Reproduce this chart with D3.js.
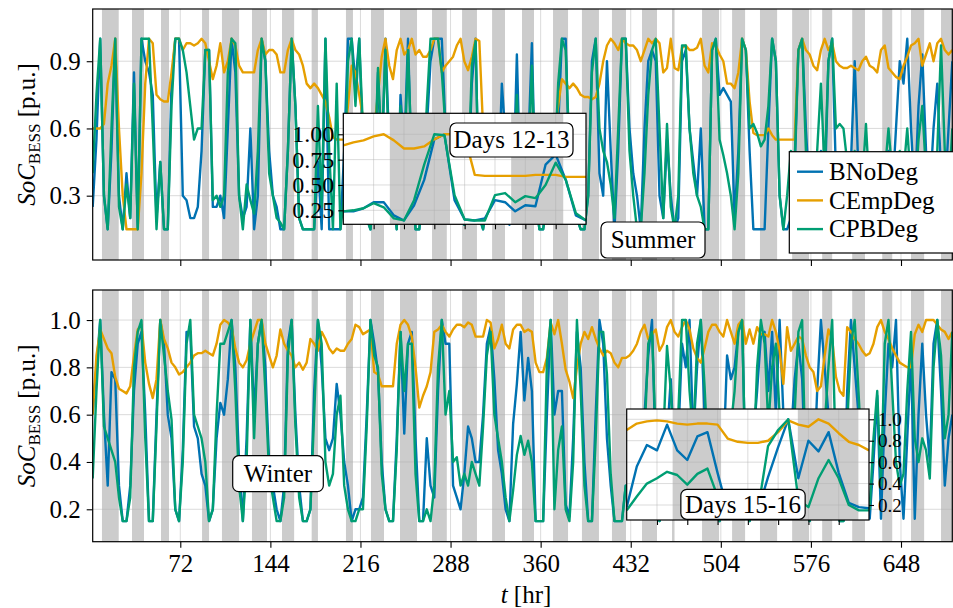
<!DOCTYPE html>
<html>
<head>
<meta charset="utf-8">
<script src="https://cdn.jsdelivr.net/npm/d3@7"></script>
<style>
  body { margin: 0; background: #fff; }
  svg { display: block; font-family: "Liberation Serif", "DejaVu Serif", serif; }
</style>
</head>
<body>
<svg id="svg" width="953" height="608"></svg>
<script>
// sampling of the main panels: every 3 hours, from hour 2 to 689
var hours = d3.range(2, 690, 3);
var xTicks = [72, 144, 216, 288, 360, 432, 504, 576, 648];
var seriesNames = ["BNoDeg", "CEmpDeg", "CPBDeg"];
var seriesColors = ["#0072B2", "#E69F00", "#009E73"];

// shaded hours (same for both seasons)
var bandStart = [9.4, 33.4, 56.6, 89.4, 105.3, 129.3, 153.3, 177, 204.4, 224.4, 247.6, 273.2, 297.2, 321.2, 345.1,
  369.9, 393, 417, 441, 465, 489, 513, 535.3, 561, 585, 609, 633, 656, 680];
var bandEnd = [22.8, 43, 63, 95, 119, 141.3, 163, 182, 210, 234.8, 261.2, 285, 309.1, 331.5, 354.7,
  381.9, 406.6, 428.2, 453, 467, 502.6, 523.4, 549, 574.5, 593, 619.2, 641, 666.5, 690];

// Summer
var summerBNoDeg = [
  0.25, 0.55, 1.0, 0.3, 0.15, 0.5, 1.0, 0.3,
  0.15, 0.40, 0.2, 0.85, 0.15, 1.0, 0.9, 0.85,
  0.75, 0.2, 0.45, 0.15, 0.15, 0.8, 1.0, 1.0,
  0.3, 0.28, 0.2, 0.2, 0.25, 0.5, 0.95, 0.95,
  0.25, 0.25, 0.3, 0.2, 0.6, 1.0, 0.85, 0.3,
  0.2, 0.25, 0.6, 0.15, 0.3, 1.0, 0.9, 0.5,
  0.3, 0.25, 0.15, 0.15, 0.5, 1.0, 0.7, 0.2,
  0.15, 0.15, 0.15, 0.15, 0.45, 0.15, 1.0, 0.15,
  0.15, 0.15, 0.15, 0.5, 1.0, 1.0, 0.8, 1.0,
  0.5, 0.2, 0.15, 0.3, 0.85, 0.4, 1.0, 0.5,
  0.3, 0.15, 0.75, 0.5, 1.0, 0.4, 0.15, 0.15,
  0.3, 0.6, 0.9, 1.0, 1.0, 1.0, 0.6, 0.3,
  0.24, 0.29, 0.35, 0.17, 0.35, 0.8, 1.0, 0.2,
  0.15, 0.25, 0.33, 0.27, 0.3, 0.8, 0.55, 0.17,
  0.3, 0.93, 0.3, 0.2, 0.5, 0.98, 0.3, 0.15,
  0.15, 0.3, 0.2, 0.3, 0.6, 1.0, 1.0, 0.4,
  0.3, 0.2, 0.15, 0.15, 0.3, 0.9, 1.0, 0.4,
  0.3, 0.9, 0.5, 0.15, 0.5, 1.0, 1.0, 0.6,
  0.4, 0.3, 0.15, 0.6, 0.9, 0.95, 0.9, 0.3,
  0.2, 0.55, 0.3, 0.15, 0.2, 0.9, 0.95, 0.6,
  0.45, 0.3, 0.6, 0.15, 0.15, 0.95, 1.0, 0.75,
  0.78, 0.75, 0.72, 0.2, 0.5, 1.0, 0.95, 0.5,
  0.15, 0.15, 0.15, 0.15, 0.6, 1.0, 0.9, 0.3,
  0.15, 0.15, 0.2, 0.4, 0.95, 1.0, 0.6, 0.3,
  0.2, 0.3, 0.5, 0.3, 0.9, 1.0, 0.4, 0.3,
  0.3, 0.2, 0.45, 0.9, 0.4, 0.3, 0.15, 0.15,
  0.15, 0.15, 0.15, 0.3, 0.5, 0.3, 0.6, 0.9,
  0.8, 1.0, 0.6, 0.3, 0.7, 0.93, 0.5, 0.3,
  0.6, 0.8, 0.4, 0.3, 0.6, 0.9
];
var summerCEmpDeg = [
  0.60, 0.60, 0.60, 0.62, 0.80, 0.88, 1.0, 0.6,
  0.30, 0.15, 0.15, 0.15, 0.15, 0.4, 0.8, 1.0,
  0.98, 0.75, 0.73, 0.72, 0.72, 0.85, 1.0, 1.0,
  0.95, 0.98, 0.98, 0.97, 0.98, 1.0, 0.98, 0.9,
  0.82, 0.88, 0.98, 0.85, 0.90, 1.0, 0.97, 0.88,
  0.85, 0.85, 0.85, 0.85, 0.95, 1.0, 0.93, 0.95,
  0.95, 0.93, 0.85, 0.85, 0.95, 1.0, 0.95, 0.93,
  0.88, 0.80, 0.78, 0.80, 0.78, 0.75, 0.72, 0.65,
  0.56, 0.55, 0.55, 0.55, 0.7, 0.88, 0.85, 0.75,
  0.65, 0.55, 0.55, 0.6, 0.75, 0.92, 1.0, 0.88,
  0.82, 0.95, 1.0, 0.93, 0.95, 1.0, 0.93, 0.95,
  0.92, 0.92, 0.95, 1.0, 1.0, 0.85, 0.88, 0.9,
  0.92, 0.97, 1.0, 0.9, 0.86, 0.92, 1.0, 0.99,
  0.6, 0.59, 0.59, 0.59, 0.6, 0.6, 0.58, 0.58,
  0.58, 0.58, 0.57, 0.57, 0.57, 0.57, 0.56, 0.55,
  0.55, 0.55, 0.55, 0.58, 0.7, 0.82, 0.8, 0.78,
  0.8, 0.78, 0.75, 0.74, 0.74, 0.73, 0.74, 0.8,
  0.9, 0.97, 1.0, 0.98, 0.95, 1.0, 0.98, 0.97,
  0.97, 0.95, 0.9, 0.95, 1.0, 0.98, 1.0, 0.98,
  0.85, 0.87, 1.0, 0.87, 0.86, 0.96, 0.97, 0.95,
  0.95, 0.96, 1.0, 0.88, 0.85, 0.98, 0.97, 0.93,
  0.9, 0.8, 0.8, 0.78, 0.85, 1.0, 0.95, 0.72,
  0.58, 0.57, 0.57, 0.57, 0.6, 0.57, 0.55, 0.55,
  0.55, 0.55, 0.55, 0.55, 0.95, 1.0, 0.95, 0.93,
  0.88, 0.86, 0.95, 1.0, 0.95, 0.98, 0.9, 0.88,
  0.87, 0.87, 0.88, 0.87, 0.86, 0.9, 0.92, 0.88,
  0.87, 0.85, 0.95, 0.97, 0.87, 0.85, 0.83, 0.82,
  0.88, 0.92, 0.97, 0.98, 1.0, 0.88, 0.93, 0.98,
  0.9, 0.98, 1.0, 0.95, 0.93, 0.95
];
var summerCPBDeg = [
  0.40, 0.75, 1.0, 0.3, 0.15, 0.6, 1.0, 0.25,
  0.15, 0.35, 0.2, 0.80, 0.15, 1.0, 1.0, 1.0,
  0.6, 0.15, 0.45, 0.15, 0.15, 0.7, 1.0, 1.0,
  0.95, 0.85, 0.7, 0.55, 0.6, 0.6, 0.95, 0.95,
  0.28, 0.3, 0.25, 0.3, 0.85, 1.0, 0.98, 0.3,
  0.15, 0.35, 0.28, 0.22, 0.5, 1.0, 0.9, 0.4,
  0.3, 0.2, 0.18, 0.15, 0.5, 1.0, 0.7, 0.2,
  0.15, 0.15, 0.15, 0.15, 0.7, 0.25, 1.0, 0.5,
  0.15, 0.8, 0.15, 0.3, 0.9, 1.0, 0.7, 1.0,
  0.6, 0.2, 0.15, 0.35, 0.87, 0.5, 0.95, 0.45,
  0.35, 0.15, 0.7, 0.4, 0.95, 0.45, 0.15, 0.15,
  0.35, 0.7, 1.0, 1.0, 1.0, 0.85, 0.6, 0.3,
  0.24, 0.29, 0.3, 0.17, 0.35, 0.88, 0.99, 0.22,
  0.15, 0.3, 0.42, 0.35, 0.37, 0.62, 0.55, 0.18,
  0.25, 0.75, 0.3, 0.2, 0.4, 0.88, 0.3, 0.15,
  0.15, 0.25, 0.2, 0.4, 0.8, 1.0, 0.95, 0.5,
  0.35, 0.2, 0.15, 0.15, 0.3, 0.85, 1.0, 0.6,
  0.5, 0.45, 0.35, 0.2, 0.6, 1.0, 1.0, 0.5,
  0.3, 0.15, 0.15, 0.4, 0.75, 0.95, 1.0, 0.6,
  0.2, 0.62, 0.25, 0.15, 0.3, 0.97, 0.97, 0.6,
  0.4, 0.3, 0.25, 0.15, 0.15, 0.95, 1.0, 0.55,
  0.48, 0.4, 0.3, 0.15, 0.4, 1.0, 0.95, 0.6,
  0.62, 0.58, 0.52, 0.55, 0.7, 1.0, 0.9, 0.3,
  0.15, 0.3, 0.5, 0.45, 0.95, 1.0, 0.5, 0.3,
  0.3, 0.5, 0.8, 0.4, 0.9, 1.0, 0.6, 0.62,
  0.6, 0.45, 0.4, 0.5, 0.4, 0.35, 0.62, 0.3,
  0.3, 0.25, 0.2, 0.4, 0.6, 0.4, 0.45, 0.5,
  0.4, 0.6, 0.35, 0.3, 0.55, 0.7, 0.4, 0.3,
  0.3, 0.5, 0.97, 0.5, 0.3, 0.6
];

// Winter
var winterBNoDeg = [
  0.61, 0.8, 1.0, 0.6, 0.3, 0.78, 0.75, 0.3,
  0.15, 0.15, 0.3, 0.7, 0.9, 0.95, 0.6, 0.15,
  0.15, 0.6, 1.0, 0.9, 0.6, 0.5, 0.2, 0.15,
  0.45, 0.95, 0.95, 0.55, 0.5, 0.35, 0.3, 0.15,
  0.2, 0.5, 0.65, 0.6, 0.75, 1.0, 0.8, 0.4,
  0.15, 0.5, 1.0, 0.6, 0.9, 1.0, 0.8, 0.4,
  0.3, 0.2, 0.15, 0.3, 0.9, 1.0, 0.6, 0.3,
  0.15, 0.15, 0.2, 0.7, 1.0, 0.8, 0.5, 0.45,
  0.5, 0.73, 0.6, 0.4, 0.3, 0.15, 0.2, 0.2,
  0.25, 0.6, 1.0, 0.9, 0.78, 0.4, 0.2, 0.15,
  0.15, 0.5, 0.95, 0.52, 0.9, 0.95, 0.5, 0.15,
  0.15, 0.5, 0.3, 0.25, 0.7, 1.0, 0.9, 0.9,
  0.3, 0.25, 0.2, 0.35, 0.55, 0.5, 0.4, 0.4,
  0.6, 0.9, 0.97, 0.75, 0.45, 0.35, 0.2, 0.15,
  0.56, 0.73, 0.95, 0.66, 0.84, 0.7, 0.15, 0.15,
  0.15, 0.6, 1.0, 0.6, 0.7, 0.7, 0.22, 0.17,
  0.5, 0.95, 0.8, 0.4, 0.15, 0.15, 0.6, 1.0,
  0.9, 0.5, 0.3, 0.15, 0.15, 0.15, 0.3, 0.3,
  0.3, 0.4, 0.5, 0.6, 0.85, 1.0, 0.4, 0.15,
  0.3, 0.5, 0.75, 0.4, 0.5, 0.9, 0.8, 1.0,
  0.5, 0.8, 1.0, 0.6, 0.4, 0.3, 0.2, 0.15,
  0.4, 0.85, 0.75, 0.8, 0.95, 1.0, 0.3, 0.15,
  0.5, 0.7, 0.93, 0.95, 0.7, 0.95, 0.6, 1.0,
  0.6, 0.4, 0.5, 0.75, 0.9, 0.75, 0.3, 0.15,
  0.3, 0.7, 1.0, 0.8, 0.6, 0.5, 0.3, 0.15,
  0.15, 0.7, 1.0, 0.8, 0.6, 0.5, 0.4, 0.16,
  0.4, 0.68, 0.16, 0.6, 0.9, 0.8, 1.0, 0.4,
  0.16, 0.5, 0.85, 0.16, 0.6, 0.9, 0.6, 0.4,
  0.9, 1.0, 0.7, 0.3, 0.5, 0.6
];
var winterCEmpDeg = [
  0.6, 0.85, 0.96, 0.92, 0.88, 0.86, 0.76, 0.71,
  0.7, 0.69, 0.72, 0.85, 0.96, 0.98, 0.82, 0.73,
  0.67, 0.75, 1.0, 0.92, 0.88, 0.82, 0.8, 0.77,
  0.78, 0.8, 0.82, 0.85, 0.86, 0.86, 0.87, 0.86,
  0.85, 0.9, 0.98, 1.0, 0.99, 0.97, 0.88, 0.82,
  0.8, 0.83, 0.9, 0.95, 1.0, 1.0, 0.9, 0.85,
  0.8, 0.85, 0.96, 0.9, 0.87, 0.85, 0.8, 0.82,
  0.79, 0.82, 0.92, 0.9, 0.87, 0.95, 0.92, 0.88,
  0.86, 0.88, 0.87, 0.87, 0.9, 0.92, 0.98, 0.97,
  0.94, 0.95, 0.96, 0.78, 0.77, 0.72, 0.72, 0.72,
  0.72, 0.9, 0.98, 1.0, 0.98, 0.93, 0.8, 0.63,
  0.68, 0.72, 0.78, 0.95, 0.96, 0.98, 0.95, 0.93,
  0.96, 0.98, 0.98, 0.97, 0.99, 0.98, 0.93, 0.93,
  0.93, 1.0, 0.99, 0.88, 0.92, 0.98, 0.9, 0.88,
  0.96, 0.98, 0.98, 0.95, 0.96, 0.95, 0.82, 0.78,
  0.78, 0.84, 0.99, 0.94, 1.0, 0.9, 0.79, 0.74,
  0.67, 0.8, 0.9, 0.95, 0.92, 0.97, 0.92, 0.88,
  0.85, 0.87, 0.86, 0.82, 0.8, 0.84, 0.84, 0.85,
  0.87, 0.9, 0.95, 0.98, 0.92, 0.94, 0.96, 0.87,
  0.9, 0.97, 1.0, 0.95, 0.93, 0.97, 1.0, 0.96,
  0.88, 0.84, 0.82, 0.88, 0.95, 0.98, 0.98, 0.95,
  0.93, 1.0, 0.95, 0.9, 0.98, 1.0, 0.9, 0.96,
  0.9, 0.97, 0.94, 0.94, 0.93, 1.0, 0.95, 0.87,
  0.73, 0.97, 0.87, 0.9, 0.93, 0.92, 0.85, 0.8,
  0.78, 0.7, 0.72, 0.85, 0.96, 0.92, 0.76, 0.7,
  0.68, 0.97, 0.95, 0.92, 0.9, 0.87, 0.85, 0.86,
  0.9, 0.97, 1.0, 0.95, 0.92, 0.88, 0.85, 0.82,
  0.81, 0.8, 0.8, 0.94, 0.98, 0.95, 1.0, 1.0,
  1.0, 0.98, 0.96, 0.95, 0.92, 0.95
];
var winterCPBDeg = [
  0.33, 0.7, 1.0, 0.55, 0.5, 0.45, 0.4, 0.25,
  0.15, 0.15, 0.25, 0.8, 0.95, 1.0, 0.5, 0.15,
  0.15, 0.55, 1.0, 0.85, 0.7, 0.58, 0.2, 0.15,
  0.4, 0.9, 1.0, 0.6, 0.55, 0.5, 0.4, 0.15,
  0.2, 0.6, 0.9, 0.9, 0.95, 1.0, 0.7, 0.3,
  0.15, 0.4, 1.0, 0.5, 0.9, 1.0, 0.7, 0.35,
  0.25, 0.15, 0.15, 0.25, 0.85, 1.0, 0.55, 0.25,
  0.15, 0.15, 0.2, 0.6, 1.0, 0.9, 0.4, 0.3,
  0.35, 0.6, 0.68, 0.3, 0.2, 0.15, 0.15, 0.2,
  0.2, 0.55, 1.0, 0.85, 0.8, 0.35, 0.2, 0.15,
  0.15, 0.45, 0.95, 0.7, 0.9, 0.9, 0.35, 0.15,
  0.15, 0.2, 0.15, 0.3, 0.8, 1.0, 0.6, 0.7,
  0.4, 0.42, 0.3, 0.35, 0.3, 0.4, 0.35, 0.3,
  0.55, 0.85, 0.95, 0.6, 0.5, 0.4, 0.25, 0.15,
  0.28, 0.43, 0.51, 0.43, 0.49, 0.4, 0.15, 0.15,
  0.15, 0.82, 1.0, 0.2, 0.45, 0.55, 0.2, 0.15,
  0.4, 1.0, 0.7, 0.3, 0.15, 0.15, 0.5, 0.95,
  0.95, 0.77, 0.35, 0.15, 0.15, 0.15, 0.3, 0.3,
  0.3, 0.4, 0.45, 0.5, 0.9, 0.95, 0.5, 0.15,
  0.5, 0.89, 0.7, 0.4, 0.6, 1.0, 1.0, 0.7,
  0.5, 0.9, 1.0, 0.72, 0.4, 0.3, 0.2, 0.15,
  0.3, 0.5, 0.55, 0.7, 0.95, 1.0, 0.3, 0.15,
  0.4, 0.8, 1.0, 0.9, 0.55, 0.8, 0.9, 0.6,
  0.5, 0.3, 0.4, 0.6, 0.95, 1.0, 0.3, 0.15,
  0.3, 0.45, 0.5, 0.55, 0.8, 1.0, 0.4, 0.15,
  0.15, 0.55, 0.9, 1.0, 0.7, 0.4, 0.3, 0.2,
  0.5, 0.7, 0.3, 0.9, 1.0, 0.7, 0.4, 0.3,
  0.35, 0.7, 0.95, 0.5, 0.4, 0.5, 0.45, 0.33,
  0.8, 1.0, 0.85, 0.5, 0.6, 0.95
];

// zoomed insets, every 2 hours
var summerZoomHours = d3.range(288, 337, 2);
var summerZoomBNoDeg = [0.24, 0.24, 0.27, 0.33, 0.33, 0.2, 0.15, 0.3, 0.55, 0.95, 1.0, 0.35, 0.16,
  0.15, 0.17, 0.35, 0.33, 0.24, 0.3, 0.29, 0.7, 0.8, 0.55, 0.2, 0.15];
var summerZoomCEmpDeg = [0.89, 0.92, 0.94, 0.98, 1.0, 0.94, 0.86, 0.86, 0.88, 0.95, 1.0, 1.0, 0.98,
  0.6, 0.59, 0.59, 0.59, 0.59, 0.59, 0.6, 0.6, 0.6, 0.58, 0.58, 0.58];
var summerZoomCPBDeg = [0.24, 0.25, 0.27, 0.32, 0.28, 0.17, 0.15, 0.35, 0.7, 1.0, 0.99, 0.4, 0.16,
  0.15, 0.15, 0.4, 0.42, 0.33, 0.39, 0.37, 0.5, 0.72, 0.55, 0.22, 0.15];

var winterZoomHours = d3.range(336, 385, 2);
var winterZoomBNoDeg = [0.18, 0.56, 0.76, 0.71, 0.95, 0.71, 0.62, 0.84, 0.88, 0.5, 0.15, 0.15, 0.15,
  0.15, 0.46, 0.74, 1.0, 0.45, 0.8, 0.7, 0.88, 0.5, 0.22, 0.18, 0.17];
var winterZoomCEmpDeg = [0.9, 0.96, 0.98, 0.99, 0.98, 0.96, 0.95, 0.96, 0.96, 0.95, 0.82, 0.79, 0.78,
  0.78, 0.8, 0.88, 0.99, 0.95, 0.93, 1.0, 0.96, 0.87, 0.79, 0.76, 0.71];
var winterZoomCPBDeg = [0.15, 0.28, 0.4, 0.45, 0.51, 0.48, 0.39, 0.49, 0.54, 0.28, 0.15, 0.15, 0.15,
  0.15, 0.75, 0.9, 1.0, 0.25, 0.18, 0.45, 0.62, 0.45, 0.2, 0.15, 0.15];

var svg = d3.select("#svg");
var fontSize = 25;

var x = d3.scaleLinear().domain([2, 689]).range([92.7, 952.3]);

function seriesOf(xs, arrays) {
  return arrays.map(function (vals, i) {
    return { name: seriesNames[i], color: seriesColors[i],
      values: vals.map(function (v, j) { return { t: xs[j], v: v }; }) };
  });
}

function styleAxis(g, size) {
  g.attr("font-family", null).attr("font-size", size);
  g.select(".domain").remove();
  g.selectAll(".tick line").attr("stroke", "#000").attr("stroke-width", 1.1);
  g.selectAll(".tick text").attr("fill", "#000");
}

// plot area with bands, grid, lines; used by panels and insets
function drawArea(g, id, xs, ys, gx, gy, series, lw) {
  var x0 = xs.range()[0], x1 = xs.range()[1];
  var y0 = ys.range()[1], y1 = ys.range()[0];
  g.append("clipPath").attr("id", id).append("rect")
    .attr("x", x0).attr("y", y0).attr("width", x1 - x0).attr("height", y1 - y0);
  var inner = g.append("g").attr("clip-path", "url(#" + id + ")");
  inner.append("rect").attr("x", x0).attr("y", y0).attr("width", x1 - x0).attr("height", y1 - y0)
    .attr("fill", "#fff");
  inner.selectAll(".band").data(bandStart).enter().append("rect")
    .attr("class", "band")
    .attr("x", function (d) { return xs(d); })
    .attr("width", function (d, i) { return xs(bandEnd[i]) - xs(d); })
    .attr("y", y0).attr("height", y1 - y0)
    .attr("fill", "#cccccc");
  inner.selectAll(".gx").data(gx).enter().append("line")
    .attr("x1", xs).attr("x2", xs).attr("y1", y0).attr("y2", y1)
    .attr("stroke", "#b0b0b0").attr("stroke-opacity", 0.45).attr("stroke-width", 1);
  inner.selectAll(".gy").data(gy).enter().append("line")
    .attr("y1", ys).attr("y2", ys).attr("x1", x0).attr("x2", x1)
    .attr("stroke", "#b0b0b0").attr("stroke-opacity", 0.45).attr("stroke-width", 1);
  var line = d3.line()
    .x(function (d) { return xs(d.t); })
    .y(function (d) { return ys(d.v); });
  inner.selectAll(".series").data(series).enter().append("path")
    .attr("d", function (d) { return line(d.values); })
    .attr("fill", "none")
    .attr("stroke", function (d) { return d.color; })
    .attr("stroke-width", lw)
    .attr("stroke-linejoin", "round");
  g.append("rect").attr("x", x0).attr("y", y0).attr("width", x1 - x0).attr("height", y1 - y0)
    .attr("fill", "none").attr("stroke", "#000").attr("stroke-width", 1.2);
}

function labelBox(g, cx, cy, w, h, text) {
  g.append("rect").attr("x", cx - w / 2).attr("y", cy - h / 2).attr("width", w).attr("height", h)
    .attr("rx", 6).attr("fill", "#fff").attr("stroke", "#000").attr("stroke-width", 1.2);
  g.append("text").attr("x", cx).attr("y", cy).attr("dy", "0.33em")
    .attr("text-anchor", "middle").attr("font-size", fontSize).text(text);
}

function yLabel(g, cx, cy) {
  var t = g.append("text").attr("transform", "translate(" + cx + "," + cy + ") rotate(-90)")
    .attr("text-anchor", "middle").attr("font-size", fontSize);
  t.append("tspan").attr("font-style", "italic").text("SoC");
  t.append("tspan").attr("font-size", 17).attr("dy", 5).text("BESS");
  t.append("tspan").attr("dy", -5).text(" [p.u.]");
}

function drawPanel(opts) {
  var g = svg.append("g");
  var y = d3.scaleLinear().domain(opts.yDomain).range([opts.bottom, opts.top]);
  var series = seriesOf(hours, opts.data);
  drawArea(g, opts.id, x, y, xTicks, opts.yTicks, series, 2.4);

  var ax = g.append("g").attr("transform", "translate(0," + opts.bottom + ")")
    .call(d3.axisBottom(x).tickValues(xTicks).tickSize(6).tickPadding(7)
      .tickFormat(opts.xLabels ? d3.format("d") : ""));
  styleAxis(ax, fontSize);
  var ay = g.append("g").attr("transform", "translate(" + x.range()[0] + ",0)")
    .call(d3.axisLeft(y).tickValues(opts.yTicks).tickSize(6).tickPadding(6).tickFormat(d3.format(".1f")));
  styleAxis(ay, fontSize);
  yLabel(g, 35, (opts.top + opts.bottom) / 2);
  return g;
}

function drawInset(opts) {
  var g = svg.append("g");
  var xs = d3.scaleLinear().domain(opts.xDomain).range([opts.left, opts.right]);
  var ys = d3.scaleLinear().domain(opts.yDomain).range([opts.bottom, opts.top]);
  var ticks = d3.range(opts.xDomain[0] + 6, opts.xDomain[1], 6);
  drawArea(g, opts.id, xs, ys, ticks, opts.yTicks, seriesOf(opts.hours, opts.data), 2.4);
  var ax = g.append("g").attr("transform", "translate(0," + opts.bottom + ")")
    .call(d3.axisBottom(xs).tickValues(ticks).tickSize(5).tickFormat(""));
  styleAxis(ax, 20);
  var axis = opts.side === "left" ? d3.axisLeft(ys) : d3.axisRight(ys);
  var ay = g.append("g")
    .attr("transform", "translate(" + (opts.side === "left" ? opts.left : opts.right) + ",0)")
    .call(axis.tickValues(opts.yTicks).tickSize(5).tickPadding(4).tickFormat(d3.format(opts.fmt)));
  styleAxis(ay, opts.labelSize);
  return g;
}

// Summer panel
var summer = drawPanel({ id: "clipSummer", top: 9, bottom: 260, yDomain: [0.013, 1.133],
  yTicks: [0.3, 0.6, 0.9], xLabels: false,
  data: [summerBNoDeg, summerCEmpDeg, summerCPBDeg] });
var summerInset = drawInset({ id: "clipSummerZoom", left: 343.3, right: 586, top: 113.3, bottom: 224.3,
  xDomain: [288, 336], yDomain: [0.112, 1.207], yTicks: [0.25, 0.5, 0.75, 1.0], fmt: ".2f", side: "left",
  labelSize: 24,
  hours: summerZoomHours, data: [summerZoomBNoDeg, summerZoomCEmpDeg, summerZoomCPBDeg] });
labelBox(summerInset, 511.5, 140, 123, 34, "Days 12-13");
labelBox(summer, 653, 240, 104, 36, "Summer");

// legend
var legend = summer.append("g");
legend.append("rect").attr("x", 789.3).attr("y", 151.7).attr("width", 170).attr("height", 101.3)
  .attr("fill", "#fff").attr("stroke", "#000").attr("stroke-width", 1.2);
var item = legend.selectAll(".item").data(seriesNames).enter().append("g")
  .attr("transform", function (d, i) { return "translate(0," + (171.7 + i * 28.7) + ")"; });
item.append("line").attr("x1", 797).attr("x2", 823)
  .attr("stroke", function (d, i) { return seriesColors[i]; }).attr("stroke-width", 2.4);
item.append("text").attr("x", 829).attr("dy", "0.33em").attr("font-size", fontSize)
  .text(function (d) { return d; });

// Winter panel
var winter = drawPanel({ id: "clipWinter", top: 290, bottom: 541.7, yDomain: [0.063, 1.127],
  yTicks: [0.2, 0.4, 0.6, 0.8, 1.0], xLabels: true,
  data: [winterBNoDeg, winterCEmpDeg, winterCPBDeg] });
labelBox(winter, 278, 473.7, 90.6, 36, "Winter");
var winterInset = drawInset({ id: "clipWinterZoom", left: 626.7, right: 869, top: 409, bottom: 520,
  xDomain: [336, 384], yDomain: [0.06, 1.096], yTicks: [0.2, 0.4, 0.6, 0.8, 1.0], fmt: ".1f", side: "right",
  labelSize: 19,
  hours: winterZoomHours, data: [winterZoomBNoDeg, winterZoomCEmpDeg, winterZoomCPBDeg] });
labelBox(winterInset, 743, 504.3, 124.3, 30, "Days 15-16");

// x axis title
var xt = svg.append("text").attr("x", 526).attr("y", 603).attr("text-anchor", "middle")
  .attr("font-size", fontSize);
xt.append("tspan").attr("font-style", "italic").text("t");
xt.append("tspan").text(" [hr]");
</script>
</body>
</html>
